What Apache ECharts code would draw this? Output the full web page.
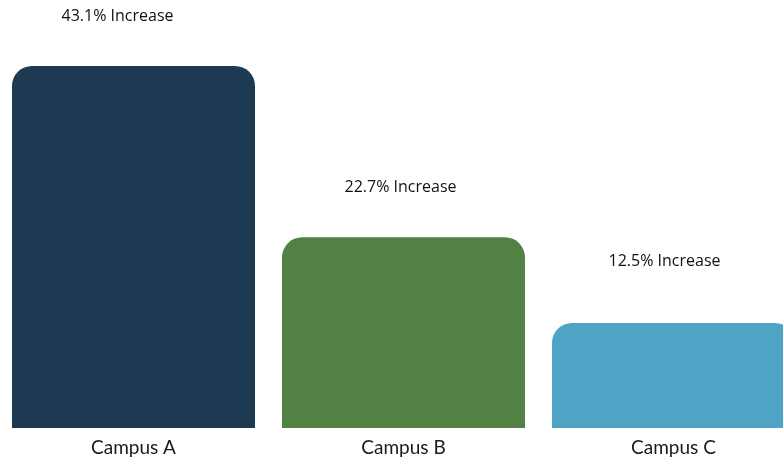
<!DOCTYPE html>
<html>
<head>
<meta charset="utf-8">
<script src="https://cdn.jsdelivr.net/npm/echarts@6/dist/echarts.min.js"></script>
<style>
  html, body { margin: 0; padding: 0; background: #ffffff; }
  #chart { width: 783px; height: 460px; }
</style>
</head>
<body>
<div id="chart"></div>
<script>
// Enrollment growth by campus
const campuses = ['Campus A', 'Campus B', 'Campus C'];
const increasePct = [43.1, 22.7, 12.5];
const barColors = ['#1d3a52', '#528144', '#4fa3c4'];

// per-bar nudges for the value labels (px)
const labelNudge = [[-16, 1], [-3, 1], [-9, -11]];

const chart = echarts.init(document.getElementById('chart'));

chart.setOption({
  backgroundColor: '#ffffff',
  animation: false,
  grid: {
    left: -1.5,
    top: 8,
    bottom: 32,
    width: 810,
    outerBoundsMode: 'none',
    containLabel: false
  },
  xAxis: {
    type: 'category',
    data: campuses,
    axisLine: { show: false },
    axisTick: { show: false },
    axisLabel: {
      color: '#1a1a1a',
      fontFamily: 'Lato',
      fontSize: 19,
      margin: 10
    }
  },
  yAxis: {
    type: 'value',
    min: 0,
    max: 50,
    show: false,
    splitLine: { show: false }
  },
  series: [{
    type: 'bar',
    barWidth: '90%',
    data: increasePct.map((v, i) => ({
      value: v,
      itemStyle: { color: barColors[i] },
      label: { offset: labelNudge[i] }
    })),
    itemStyle: { borderRadius: [20, 20, 0, 0] },
    label: {
      show: true,
      position: 'top',
      distance: 43,
      color: '#111111',
      fontFamily: 'Open Sans',
      fontSize: 16,
      formatter: p => p.value + '% Increase'
    }
  }]
});
</script>
</body>
</html>
